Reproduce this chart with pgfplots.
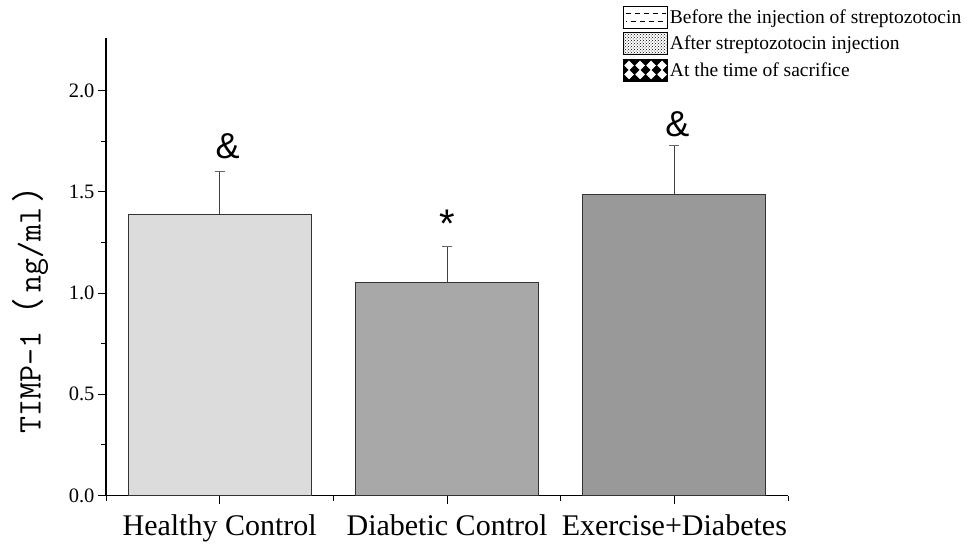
\documentclass[border=0pt]{standalone}
\usepackage{fontspec}
\setmainfont{Liberation Serif}
\newfontfamily\cjk{Noto Sans CJK SC}
\newfontfamily\sansfont{Liberation Sans}
\usepackage{pgfplots}
\pgfplotsset{compat=1.18}
\usetikzlibrary{patterns}
\definecolor{healthyc}{HTML}{DCDCDC}
\definecolor{diabc}{HTML}{A8A8A8}
\definecolor{exc}{HTML}{999999}
\begin{document}
\begin{tikzpicture}[x=1pt,y=1pt]
\path[use as bounding box] (0,0) rectangle (977,546);
\begin{axis}[
  at={(106pt,50.5pt)}, anchor=south west,
  scale only axis, width=682pt, height=457.5pt,
  xmin=-0.5, xmax=2.5, ymin=0, ymax=2.26,
  axis x line*=bottom, axis y line*=left,
  tick align=outside,
  xtick={0,1,2},
  xticklabels={Healthy Control, Diabetic Control, Exercise+Diabetes},
  minor xtick={-0.5,0.5,1.5,2.5},
  ytick={0,0.5,1,1.5,2},
  minor ytick={0.25,0.75,1.25,1.75},
  /pgf/number format/assume math mode=true,
  yticklabel style={/pgf/number format/fixed, /pgf/number format/fixed zerofill, /pgf/number format/precision=1, font=\fontsize{20.5}{24}\selectfont},
  xticklabel style={font=\fontsize{30}{34}\selectfont, yshift=-8pt},
  major tick length=8pt, minor tick length=5pt,
  every tick/.style={black, line width=1pt},
  axis line style={black, line width=1.2pt},
  every axis y label/.style={at={(rel axis cs:-0.111,0.425)}, rotate=90, anchor=center},
  ylabel={\ttfamily\fontsize{33}{37}\selectfont TIMP-1{\cjk （}\,ng/ml\,{\cjk ）}},
  legend cell align=left,
  legend style={at={(rel axis cs:0.758,1.07)}, anchor=north west, draw=none, fill=none,
    font=\fontsize{19.5}{22}\selectfont, row sep=3.5pt, inner sep=0pt},
  clip=false,
]
\addplot[ybar, bar width=0.804, bar shift=0pt, fill=healthyc, draw=black!80, line width=1pt, forget plot,
  error bars/.cd, y dir=plus, y explicit,
  error bar style={black!75, line width=1pt},
  error mark options={rotate=90, mark size=5pt, black!60, line width=1pt}]
  coordinates {(0,1.39) +- (0,0.21)};
\addplot[ybar, bar width=0.804, bar shift=0pt, fill=diabc, draw=black!80, line width=1pt, forget plot,
  error bars/.cd, y dir=plus, y explicit,
  error bar style={black!75, line width=1pt},
  error mark options={rotate=90, mark size=5pt, black!60, line width=1pt}]
  coordinates {(1,1.051) +- (0,0.178)};
\addplot[ybar, bar width=0.804, bar shift=0pt, fill=exc, draw=black!80, line width=1pt, forget plot,
  error bars/.cd, y dir=plus, y explicit,
  error bar style={black!75, line width=1pt},
  error mark options={rotate=90, mark size=5pt, black!60, line width=1pt}]
  coordinates {(2,1.487) +- (0,0.244)};
\addlegendimage{legend image code/.code={
  \draw[black, line width=0.8pt, fill=white] (0pt,-11pt) rectangle (44pt,11pt);
  \draw[black, line width=1pt, dash pattern=on 5pt off 4pt] (2pt,4pt) -- (42pt,4pt);
  \draw[black, line width=1pt, dash pattern=on 5pt off 4pt, dash phase=4pt] (2pt,-4pt) -- (42pt,-4pt);
}}
\addlegendentry{Before the injection of streptozotocin}
\addlegendimage{legend image code/.code={
  \draw[black, line width=0.8pt, pattern=crosshatch dots] (0pt,-11pt) rectangle (44pt,11pt);
}}
\addlegendentry{After streptozotocin injection}
\addlegendimage{legend image code/.code={
  \fill[black] (0pt,-11pt) rectangle (44pt,11pt);
  \foreach \xx in {5.5,16.5,27.5,38.5} {
    \fill[white] ({\xx*1pt},0pt) -- ++(4.5pt,4.5pt) -- ++(-4.5pt,4.5pt) -- ++(-4.5pt,-4.5pt) -- cycle;
    \fill[white] ({\xx*1pt},-9pt) -- ++(4.5pt,4.5pt) -- ++(-4.5pt,4.5pt) -- ++(-4.5pt,-4.5pt) -- cycle;
  }
}}
\addlegendentry{At the time of sacrifice}
\node[font=\sansfont\fontsize{36}{40}\selectfont, anchor=base, inner sep=0pt] at (axis cs:0.035,1.667) {\&};
\node[font=\sansfont\fontsize{36}{40}\selectfont, anchor=base, inner sep=0pt] at (axis cs:2.013,1.772) {\&};
\node[font=\sansfont\fontsize{40}{42}\selectfont, anchor=center, inner sep=0pt] at (axis cs:1,1.34) {*};
\end{axis}
\end{tikzpicture}
\end{document}
